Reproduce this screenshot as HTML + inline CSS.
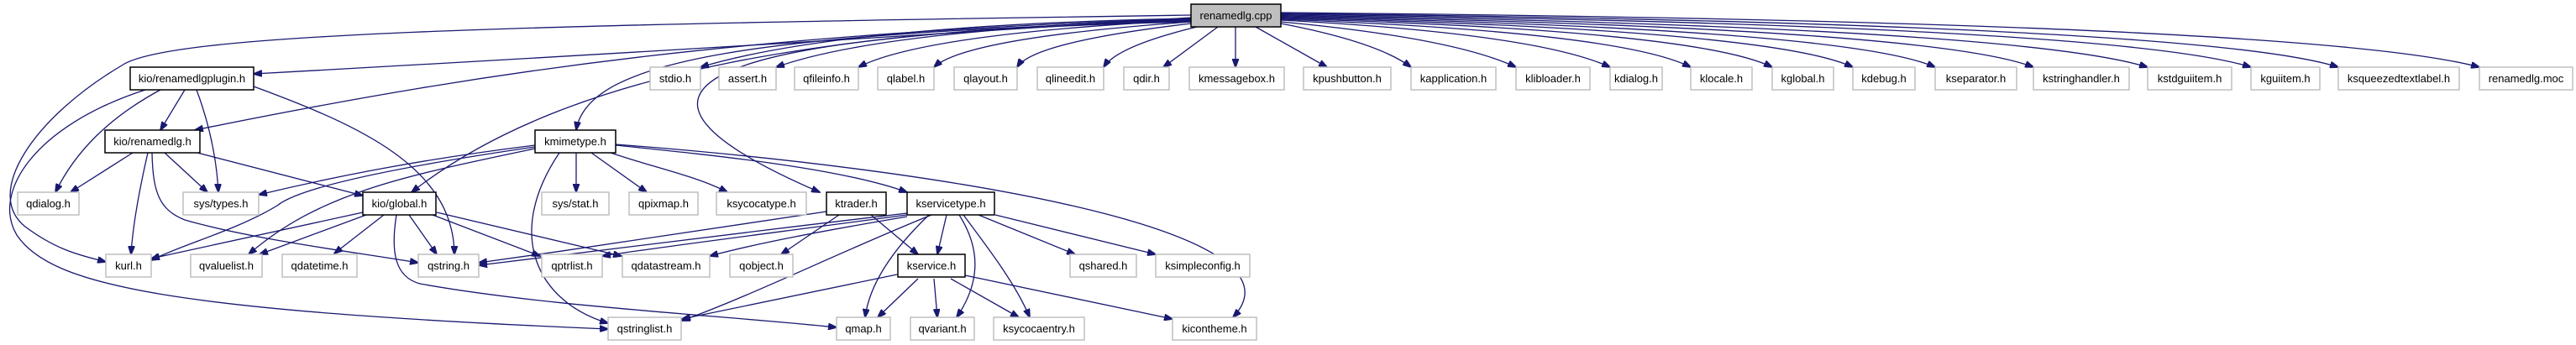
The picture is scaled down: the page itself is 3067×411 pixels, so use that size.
<!DOCTYPE html>
<html><head><meta charset="utf-8"><style>
html,body{margin:0;padding:0;background:#fff;}
svg{display:block;}
text{font-family:"Liberation Sans",Arial,sans-serif;font-size:13px;fill:#000;}
.e{fill:none;stroke:#191970;stroke-width:1.3;marker-end:url(#a);}
.n{fill:#fff;stroke:#bfbfbf;stroke-width:1.5;}
.b{fill:#fff;stroke:#000;stroke-width:1.5;}
</style></head><body>
<svg width="3067" height="411" viewBox="0 0 3067 411" xmlns="http://www.w3.org/2000/svg">
<defs><marker id="a" markerWidth="11" markerHeight="8" refX="10" refY="4" orient="auto" markerUnits="userSpaceOnUse"><path d="M0,0 L11,4 L0,8 z" fill="#191970" stroke="#191970"/></marker></defs>
<g>
<path class="e" d="M1418,22 Q1000,30 834,80"/>
<path class="e" d="M1418,23 Q1050,35 924,80"/>
<path class="e" d="M1418,24 Q1100,40 1022,80"/>
<path class="e" d="M1418,26 Q1150,45 1112,80"/>
<path class="e" d="M1418,28 Q1230,50 1211,80"/>
<path class="e" d="M1425,32 Q1330,55 1314,80"/>
<path class="e" d="M1450,32 L1385,80"/>
<path class="e" d="M1471,32 L1471,80"/>
<path class="e" d="M1495,32 L1580,80"/>
<path class="e" d="M1525,28 Q1640,50 1680,80"/>
<path class="e" d="M1525,26 Q1730,45 1805,80"/>
<path class="e" d="M1525,24 Q1830,40 1917,80"/>
<path class="e" d="M1525,23 Q1930,38 2013,80"/>
<path class="e" d="M1525,22 Q2020,36 2110,80"/>
<path class="e" d="M1525,21 Q2110,35 2206,80"/>
<path class="e" d="M1525,20 Q2200,34 2304,80"/>
<path class="e" d="M1525,19 Q2300,33 2421,80"/>
<path class="e" d="M1525,18 Q2400,32 2557,80"/>
<path class="e" d="M1525,17 Q2520,30 2680,80"/>
<path class="e" d="M1525,16 Q2620,28 2784,80"/>
<path class="e" d="M1525,15 Q2750,26 2952,80"/>
<path class="e" d="M1418,21 Q900,55 302,88"/>
<path class="e" d="M1418,22 C900,40 600,80 232,155"/>
<path class="e" d="M1418,24 C1000,35 680,80 490,229"/>
<path class="e" d="M1418,25 C900,40 700,70 686,155"/>
<path class="e" d="M1418,26 C800,40 700,110 976,229"/>
<path class="e" d="M1418,18 C600,30 200,40 145,78 C40,140 -20,230 30,270 C70,300 100,305 126,312"/>
<path class="e" d="M173,107 C40,150 -10,230 20,280 C60,340 200,370 724,392"/>
<path class="e" d="M220,107 L191,155"/>
<path class="e" d="M191,107 C130,140 90,180 66,229"/>
<path class="e" d="M234,107 C250,150 258,190 260,229"/>
<path class="e" d="M302,103 C430,150 540,200 541,303"/>
<path class="e" d="M158,182 L84,229"/>
<path class="e" d="M176,182 C165,230 158,270 156,303"/>
<path class="e" d="M181,182 C182,230 190,250 220,262 C300,285 420,300 498,313"/>
<path class="e" d="M196,182 L247,229"/>
<path class="e" d="M235,182 L432,233"/>
<path class="e" d="M637,173 C500,190 400,210 308,232"/>
<path class="e" d="M637,175 C500,195 360,220 330,245 C280,275 220,290 180,310"/>
<path class="e" d="M637,177 C480,210 380,230 296,303"/>
<path class="e" d="M666,182 C600,280 640,360 724,385"/>
<path class="e" d="M686,182 L686,229"/>
<path class="e" d="M704,182 L770,229"/>
<path class="e" d="M727,182 C780,200 830,210 866,229"/>
<path class="e" d="M733,173 C850,185 1000,200 1080,229"/>
<path class="e" d="M733,172 C1100,200 1570,270 1468,378"/>
<path class="e" d="M432,253 L180,308"/>
<path class="e" d="M436,256 L309,303"/>
<path class="e" d="M457,256 L398,302"/>
<path class="e" d="M487,256 L520,303"/>
<path class="e" d="M515,256 L643,305"/>
<path class="e" d="M520,253 L740,305"/>
<path class="e" d="M472,256 C465,300 470,330 500,338 C650,365 850,375 996,390"/>
<path class="e" d="M984,252 C800,280 700,295 570,313"/>
<path class="e" d="M999,256 L930,303"/>
<path class="e" d="M1037,256 L1093,303"/>
<path class="e" d="M1080,254 C900,275 700,300 570,316"/>
<path class="e" d="M1080,256 C900,280 780,295 717,305"/>
<path class="e" d="M1080,258 C980,275 900,290 845,305"/>
<path class="e" d="M1127,256 L1116,303"/>
<path class="e" d="M1109,256 C1000,300 900,350 812,382"/>
<path class="e" d="M1106,256 C1060,300 1035,340 1030,378"/>
<path class="e" d="M1142,256 C1170,300 1165,340 1139,378"/>
<path class="e" d="M1147,256 C1180,300 1210,340 1226,378"/>
<path class="e" d="M1165,256 L1280,303"/>
<path class="e" d="M1185,256 L1376,303"/>
<path class="e" d="M1068,327 L812,380"/>
<path class="e" d="M1093,332 L1045,378"/>
<path class="e" d="M1112,332 L1116,378"/>
<path class="e" d="M1132,332 L1213,378"/>
<path class="e" d="M1149,328 L1396,380"/>
</g>
<g>
<rect x="1418" y="5" width="107" height="27" fill="#bfbfbf" stroke="#000" stroke-width="1.5"/><text x="1471.5" y="23" text-anchor="middle">renamedlg.cpp</text>
</g>
<g text-anchor="middle">
<rect class="n" x="774" y="80" width="60" height="27"/><text x="804" y="98">stdio.h</text>
<rect class="n" x="856" y="80" width="68" height="27"/><text x="890" y="98">assert.h</text>
<rect class="n" x="946" y="80" width="76" height="27"/><text x="984" y="98">qfileinfo.h</text>
<rect class="n" x="1045" y="80" width="67" height="27"/><text x="1078.5" y="98">qlabel.h</text>
<rect class="n" x="1136" y="80" width="75" height="27"/><text x="1173.5" y="98">qlayout.h</text>
<rect class="n" x="1235" y="80" width="79" height="27"/><text x="1274.5" y="98">qlineedit.h</text>
<rect class="n" x="1338" y="80" width="54" height="27"/><text x="1365" y="98">qdir.h</text>
<rect class="n" x="1416" y="80" width="113" height="27"/><text x="1472.5" y="98">kmessagebox.h</text>
<rect class="n" x="1552" y="80" width="104" height="27"/><text x="1604" y="98">kpushbutton.h</text>
<rect class="n" x="1680" y="80" width="101" height="27"/><text x="1730.5" y="98">kapplication.h</text>
<rect class="n" x="1805" y="80" width="88" height="27"/><text x="1849" y="98">klibloader.h</text>
<rect class="n" x="1917" y="80" width="62" height="27"/><text x="1948" y="98">kdialog.h</text>
<rect class="n" x="2013" y="80" width="73" height="27"/><text x="2049.5" y="98">klocale.h</text>
<rect class="n" x="2110" y="80" width="73" height="27"/><text x="2146.5" y="98">kglobal.h</text>
<rect class="n" x="2206" y="80" width="74" height="27"/><text x="2243" y="98">kdebug.h</text>
<rect class="n" x="2304" y="80" width="97" height="27"/><text x="2352.5" y="98">kseparator.h</text>
<rect class="n" x="2421" y="80" width="114" height="27"/><text x="2478" y="98">kstringhandler.h</text>
<rect class="n" x="2557" y="80" width="100" height="27"/><text x="2607" y="98">kstdguiitem.h</text>
<rect class="n" x="2680" y="80" width="82" height="27"/><text x="2721" y="98">kguiitem.h</text>
<rect class="n" x="2784" y="80" width="144" height="27"/><text x="2856" y="98">ksqueezedtextlabel.h</text>
<rect class="n" x="2952" y="80" width="111" height="27"/><text x="3007.5" y="98">renamedlg.moc</text>
<rect class="b" x="155" y="80" width="147" height="27"/><text x="228.5" y="98">kio/renamedlgplugin.h</text>
<rect class="b" x="125" y="155" width="113" height="27"/><text x="181.5" y="173">kio/renamedlg.h</text>
<rect class="b" x="637" y="155" width="96" height="27"/><text x="685" y="173">kmimetype.h</text>
<rect class="n" x="21" y="229" width="73" height="27"/><text x="57.5" y="247">qdialog.h</text>
<rect class="n" x="218" y="229" width="90" height="27"/><text x="263" y="247">sys/types.h</text>
<rect class="b" x="432" y="229" width="87" height="27"/><text x="475.5" y="247">kio/global.h</text>
<rect class="n" x="645" y="229" width="80" height="27"/><text x="685" y="247">sys/stat.h</text>
<rect class="n" x="749" y="229" width="82" height="27"/><text x="790" y="247">qpixmap.h</text>
<rect class="n" x="853" y="229" width="107" height="27"/><text x="906.5" y="247">ksycocatype.h</text>
<rect class="b" x="984" y="229" width="71" height="27"/><text x="1019.5" y="247">ktrader.h</text>
<rect class="b" x="1080" y="229" width="104" height="27"/><text x="1132" y="247">kservicetype.h</text>
<rect class="n" x="126" y="303" width="54" height="27"/><text x="153" y="321">kurl.h</text>
<rect class="n" x="227" y="303" width="85" height="27"/><text x="269.5" y="321">qvaluelist.h</text>
<rect class="n" x="336" y="303" width="89" height="27"/><text x="380.5" y="321">qdatetime.h</text>
<rect class="n" x="498" y="303" width="72" height="27"/><text x="534" y="321">qstring.h</text>
<rect class="n" x="645" y="303" width="72" height="27"/><text x="681" y="321">qptrlist.h</text>
<rect class="n" x="741" y="303" width="104" height="27"/><text x="793" y="321">qdatastream.h</text>
<rect class="n" x="869" y="303" width="75" height="27"/><text x="906.5" y="321">qobject.h</text>
<rect class="b" x="1069" y="303" width="80" height="27"/><text x="1109" y="321">kservice.h</text>
<rect class="n" x="1274" y="303" width="79" height="27"/><text x="1313.5" y="321">qshared.h</text>
<rect class="n" x="1376" y="303" width="112" height="27"/><text x="1432" y="321">ksimpleconfig.h</text>
<rect class="n" x="724" y="378" width="87" height="27"/><text x="767.5" y="396">qstringlist.h</text>
<rect class="n" x="996" y="378" width="64" height="27"/><text x="1028" y="396">qmap.h</text>
<rect class="n" x="1084" y="378" width="76" height="27"/><text x="1122" y="396">qvariant.h</text>
<rect class="n" x="1183" y="378" width="108" height="27"/><text x="1237" y="396">ksycocaentry.h</text>
<rect class="n" x="1396" y="378" width="100" height="27"/><text x="1446" y="396">kicontheme.h</text>
</g>
</svg>
</body></html>
